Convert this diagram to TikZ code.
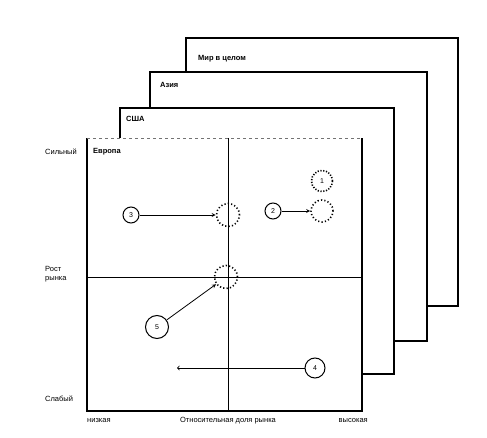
\documentclass[tikz,border=0pt]{standalone}
\usepackage{fontspec}
\setmainfont{Liberation Sans}
\usetikzlibrary{arrows}

\newlength{\du}
\setlength{\du}{1pt}

\tikzset{
  panel/.style={draw, fill=white, line width=1.2\du},
  panellabel/.style={anchor=west, inner sep=0pt, font=\bfseries\fontsize{7.5}{8}\selectfont},
  axislabel/.style={anchor=west, inner sep=0pt, font=\fontsize{7.5}{9}\selectfont},
  numcircle/.style={draw, circle, line width=1\du, inner sep=0pt, font=\fontsize{7}{7}\selectfont},
  targetcircle/.style={draw, circle, line width=1.6\du, dash pattern=on 1.2\du off 2.2\du, inner sep=0pt, minimum size=23\du},
  moveline/.style={line width=0.8\du, -stealth},
}

\begin{document}
\begin{tikzpicture}
\pgftransformxscale{1.000000}
\pgftransformyscale{-1.000000}
\definecolor{dialinecolor}{rgb}{0.000000, 0.000000, 0.000000}
\definecolor{scangray}{rgb}{0.450000, 0.450000, 0.450000}
\useasboundingbox (0\du,0\du) rectangle (487\du,438\du);
% panels, back to front
\draw[panel] (186\du,38\du) rectangle (458\du,306\du);
\draw[panel] (150\du,72\du) rectangle (427\du,341\du);
\draw[panel] (120\du,108\du) rectangle (394\du,374\du);
\fill[white] (87\du,138\du) rectangle (362\du,411\du);
\draw[line width=1.2\du, dialinecolor] (87\du,138\du)--(87\du,411\du)--(362\du,411\du)--(362\du,138\du);
\draw[line width=0.6\du, scangray, dashed] (87\du,138\du)--(362\du,138\du);
% axes of the matrix
\draw[line width=0.8\du] (228\du,138\du)--(228\du,411\du);
\draw[line width=0.9\du] (87\du,277\du)--(362\du,277\du);
% panel names
\node[panellabel] (world) at (198\du,59\du) {Мир в целом};
\node[panellabel] (asia) at (160\du,85\du) {Азия};
\node[panellabel] (usa) at (126\du,119\du) {США};
\node[panellabel] (europe) at (93\du,152\du) {Европа};
% axis labels
\node[axislabel] (strong) at (45\du,152\du) {Сильный};
\node[axislabel, anchor=north west, align=left] (growth) at (45\du,266\du) {Рост\\рынка};
\node[axislabel] (weak) at (45\du,399\du) {Слабый};
\node[axislabel] (low) at (87\du,421\du) {низкая};
\node[axislabel, anchor=center] (share) at (228\du,421\du) {Относительная доля рынка};
\node[axislabel, anchor=east] (high) at (368\du,421\du) {высокая};
% business units
\node[numcircle, minimum size=16\du] (u3) at (131\du,215\du) {3};
\node[targetcircle] (t3) at (228\du,215\du) {};
\node[numcircle, minimum size=16\du] (u2) at (273\du,211\du) {2};
\node[targetcircle, minimum size=22\du] (t2) at (322\du,211\du) {};
\node[numcircle, minimum size=21\du, line width=1.6\du, dash pattern=on 1.2\du off 1.6\du] (u1) at (322\du,181\du) {1};
\node[numcircle, minimum size=23\du] (u5) at (157\du,327\du) {5};
\node[targetcircle] (t5) at (226\du,277\du) {};
\node[numcircle, minimum size=20\du] (u4) at (315\du,368\du) {4};
\coordinate (e4) at (177\du,368\du);
% moves
\draw[moveline] (u3) -- (t3);
\draw[moveline] (u2) -- (t2);
\draw[moveline] (u5) -- (t5);
\draw[line width=0.8\du, -to] (u4) -- (e4);
\end{tikzpicture}
\end{document}
